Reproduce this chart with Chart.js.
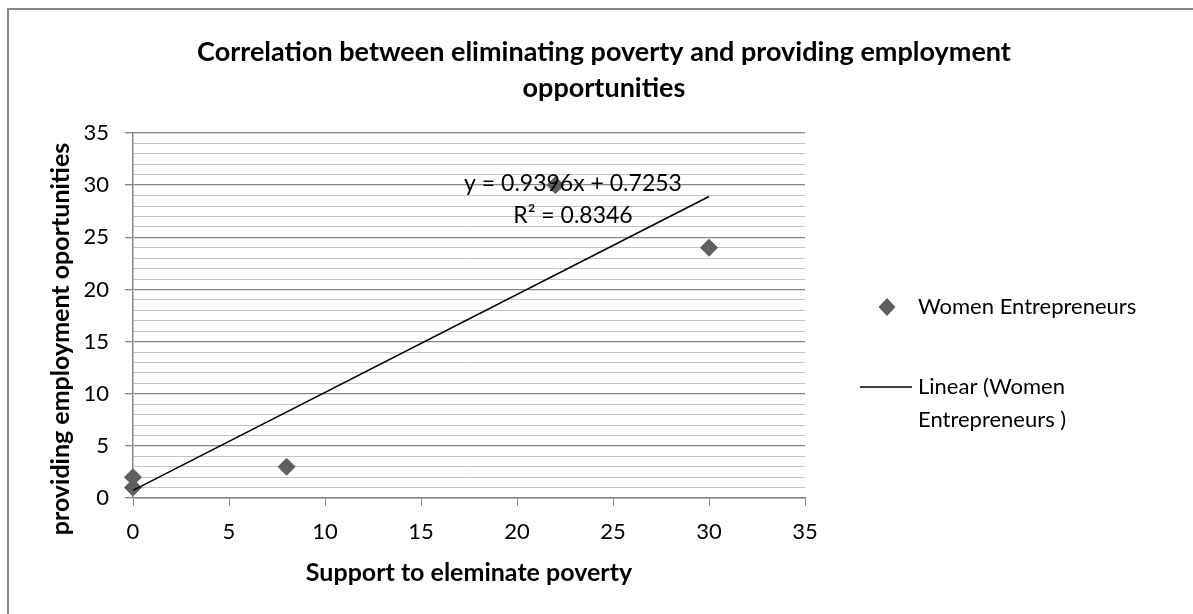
<!DOCTYPE html>
<html>
<head>
<meta charset="utf-8">
<script src="https://cdn.jsdelivr.net/npm/chart.js@4.4.1/dist/chart.umd.min.js"></script>
<style>
  html, body { margin: 0; padding: 0; background: #fff; }
  canvas { display: block; }
</style>
</head>
<body>
<canvas id="corrChart" width="1193" height="614"></canvas>
<script>
// Данные
const seriesName = 'Women Entrepreneurs';
const trendName = ['Linear (Women', 'Entrepreneurs )'];
const supportValues = [0, 0, 8, 22, 30];      // x
const employmentValues = [1, 2, 3, 30, 24];   // y
const trendX = [0, 30];
const trendY = [0.7253, 28.913];
const equationLines = ['y = 0.9396x + 0.7253', 'R² = 0.8346'];
const titleLines = ['Correlation between eliminating poverty and providing employment', 'opportunities'];
const xTitle = 'Support to eleminate poverty';
const yTitle = 'providing employment oportunities';
const axisMin = 0;
const axisMax = 35;
const majorStep = 5;
const minorStep = 1;

const FONT = 'Lato, "Open Sans", sans-serif';
const MARKER = '#5f5f5f';
const AXIS = '#868686';

// Рамка, заголовок, подпись оси Y, уравнение и легенда
const decorPlugin = {
    id: 'decor',
    beforeDraw(chart) {
        const ctx = chart.ctx;
        ctx.save();
        ctx.fillStyle = '#fff';
        ctx.fillRect(0, 0, chart.width, chart.height);
        ctx.strokeStyle = AXIS;
        ctx.lineWidth = 2;
        ctx.strokeRect(8, 9, chart.width + 10, chart.height + 10);
        ctx.restore();
    },
    afterDraw(chart) {
        const ctx = chart.ctx;
        const area = chart.chartArea;
        ctx.save();
        ctx.fillStyle = '#000';
        ctx.textAlign = 'center';
        ctx.textBaseline = 'middle';

        // заголовок
        ctx.font = 'bold 27px ' + FONT;
        ctx.fillText(titleLines[0], 604, 52);
        ctx.fillText(titleLines[1], 604, 88);

        // подпись оси Y
        ctx.font = 'bold 25px ' + FONT;
        ctx.save();
        ctx.translate(61, 339);
        ctx.rotate(-Math.PI / 2);
        ctx.fillText(yTitle, 0, 0);
        ctx.restore();

        // уравнение тренда
        ctx.font = '23px ' + FONT;
        ctx.fillText(equationLines[0], area.left + 440, area.top + 51);
        ctx.fillText(equationLines[1], area.left + 440, area.top + 83);

        // легенда
        ctx.font = '22px ' + FONT;
        ctx.textAlign = 'left';
        const lx = area.right + 82;
        ctx.fillStyle = MARKER;
        ctx.beginPath();
        ctx.moveTo(lx, 298);
        ctx.lineTo(lx + 8.5, 307);
        ctx.lineTo(lx, 316);
        ctx.lineTo(lx - 8.5, 307);
        ctx.closePath();
        ctx.fill();
        ctx.fillStyle = '#000';
        ctx.fillText(seriesName, lx + 31, 307);

        ctx.strokeStyle = '#000';
        ctx.lineWidth = 1.5;
        ctx.beginPath();
        ctx.moveTo(lx - 27, 387);
        ctx.lineTo(lx + 25, 387);
        ctx.stroke();
        ctx.fillText(trendName[0], lx + 31, 387);
        ctx.fillText(trendName[1], lx + 31, 420);
        ctx.restore();
    }
};

const points = supportValues.map((x, i) => ({ x: x, y: employmentValues[i] }));
const trendPoints = trendX.map((x, i) => ({ x: x, y: trendY[i] }));

new Chart(document.getElementById('corrChart'), {
    type: 'scatter',
    data: {
        datasets: [{
            label: 'Linear (' + seriesName + ' )',
            data: trendPoints,
            showLine: true,
            borderColor: '#000',
            borderWidth: 1.5,
            pointRadius: 0,
            order: 0,
            clip: false
        }, {
            label: seriesName,
            data: points,
            pointStyle: 'rectRot',
            pointRadius: 8.5,
            backgroundColor: MARKER,
            borderColor: MARKER,
            borderWidth: 1,
            order: 1,
            clip: false
        }]
    },
    options: {
        responsive: false,
        animation: false,
        layout: { padding: { top: 133, right: 388, left: 0, bottom: 0 } },
        plugins: {
            legend: { display: false },
            title: { display: false },
            tooltip: { enabled: false }
        },
        scales: {
            x: {
                type: 'linear',
                min: axisMin,
                max: axisMax,
                afterFit: s => { s.height = 116; },
                ticks: {
                    stepSize: majorStep,
                    color: '#000',
                    font: { family: FONT, size: 22 },
                    padding: 13,
                    maxRotation: 0
                },
                grid: {
                    drawOnChartArea: false,
                    tickLength: 8,
                    tickColor: AXIS
                },
                border: { color: AXIS, width: 1.5 },
                title: {
                    display: true,
                    text: xTitle,
                    color: '#000',
                    font: { family: FONT, size: 25, weight: 'bold' },
                    padding: { top: 0, bottom: 26 }
                }
            },
            y: {
                type: 'linear',
                min: axisMin,
                max: axisMax,
                afterFit: s => { s.width = 133; },
                ticks: {
                    stepSize: minorStep,
                    autoSkip: false,
                    color: '#000',
                    font: { family: FONT, size: 22 },
                    padding: 16,
                    callback: v => (v % majorStep === 0 ? v : '')
                },
                grid: {
                    tickLength: 8,
                    color: c => (c.tick && c.tick.value % majorStep === 0 ? AXIS : '#c4c4c4'),
                    lineWidth: c => (c.tick && c.tick.value % majorStep === 0 ? 1.3 : 1),
                    tickColor: c => (c.tick && c.tick.value % majorStep === 0 ? AXIS : 'rgba(0,0,0,0)')
                },
                border: { color: AXIS, width: 1.5 }
            }
        }
    },
    plugins: [decorPlugin]
});
</script>
</body>
</html>
